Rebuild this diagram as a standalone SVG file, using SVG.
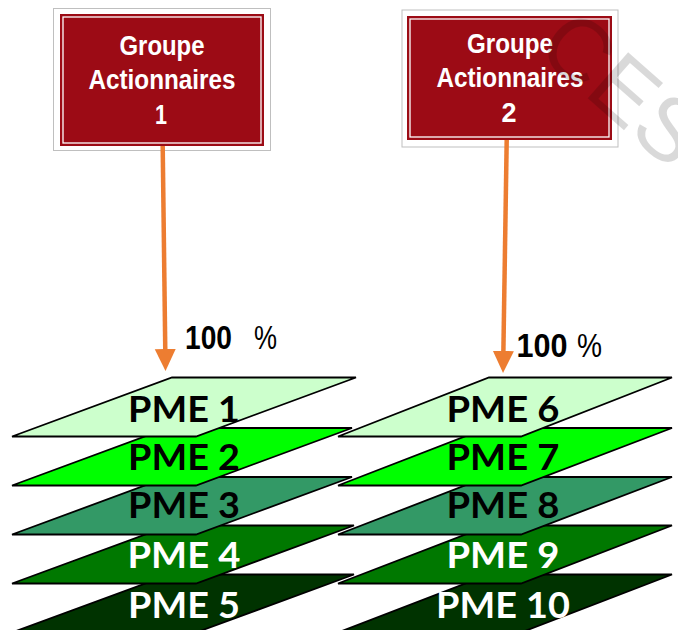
<svg xmlns="http://www.w3.org/2000/svg" width="678" height="630" viewBox="0 0 678 630">
  <defs>
    <style>
      .frame { fill: #ffffff; stroke: #bfbfbf; stroke-width: 1; }
      .red { fill: #9c0b15; }
      .inner { fill: none; stroke: #ffffff; stroke-width: 1.3; }
      .btxt { font-family: "Liberation Sans", Arial, sans-serif; font-weight: bold; font-size: 28.5px; fill: #ffffff; text-anchor: middle; }
      .layer { stroke: #000000; stroke-width: 1.8; }
      .ptxt { font-family: Lato, "Open Sans", sans-serif; font-weight: bold; font-size: 37px; text-anchor: middle; }
      .dark { fill: #000000; }
      .light { fill: #ffffff; }
      .conn { stroke: #ed7d31; stroke-width: 4.5; fill: none; }
      .pct { font-family: "Liberation Sans", Arial, sans-serif; font-size: 34px; fill: #000000; }
      .wm { font-family: "Liberation Sans", Arial, sans-serif; font-size: 89px; fill: #000000; fill-opacity: 0.15; }
    </style>
    <marker id="arrow" markerUnits="userSpaceOnUse" markerWidth="23" markerHeight="22" refX="12" refY="10.5" orient="auto">
      <path d="M0,0 L22,10.5 L0,21 Z" fill="#ed7d31"/>
    </marker>
  </defs>

  <!-- left stack (bottom layer first) -->
  <g id="pme5">
    <polygon class="layer" fill="#003300" points="170,574.5 354,574.5 196,632.5 12,632.5"/>
    <text class="ptxt light" x="184" y="618.3" textLength="112" lengthAdjust="spacingAndGlyphs">PME 5</text>
  </g>
  <g id="pme4">
    <polygon class="layer" fill="#007800" points="170,525.5 354,525.5 196,583.5 12,583.5"/>
    <text class="ptxt light" x="184" y="568.3" textLength="113" lengthAdjust="spacingAndGlyphs">PME 4</text>
  </g>
  <g id="pme3">
    <polygon class="layer" fill="#339966" points="168,477 352,477 196,534.5 12,534.5"/>
    <text class="ptxt dark" x="184" y="518.3" textLength="112" lengthAdjust="spacingAndGlyphs">PME 3</text>
  </g>
  <g id="pme2">
    <polygon class="layer" fill="#00ff00" points="168,428 352,428 196,485.5 12,485.5"/>
    <text class="ptxt dark" x="184" y="470" textLength="112" lengthAdjust="spacingAndGlyphs">PME 2</text>
  </g>
  <g id="pme1">
    <polygon class="layer" fill="#ccffcc" points="172,377.5 356,377.5 196,436.5 12,436.5"/>
    <text class="ptxt dark" x="184" y="421.7" textLength="112" lengthAdjust="spacingAndGlyphs">PME 1</text>
  </g>

  <!-- right stack (bottom layer first) -->
  <g id="pme10">
    <polygon class="layer" fill="#003300" points="489,574.5 672,574.5 521,632.5 338,632.5"/>
    <text class="ptxt light" x="503" y="618.3" textLength="134" lengthAdjust="spacingAndGlyphs">PME 10</text>
  </g>
  <g id="pme9">
    <polygon class="layer" fill="#007800" points="489,525.5 672,525.5 521,583.5 338,583.5"/>
    <text class="ptxt light" x="503" y="568.3" textLength="113" lengthAdjust="spacingAndGlyphs">PME 9</text>
  </g>
  <g id="pme8">
    <polygon class="layer" fill="#339966" points="487,477 672,477 521,534.5 338,534.5"/>
    <text class="ptxt dark" x="503" y="518.3" textLength="113" lengthAdjust="spacingAndGlyphs">PME 8</text>
  </g>
  <g id="pme7">
    <polygon class="layer" fill="#00ff00" points="487,428 672,428 521,485.5 338,485.5"/>
    <text class="ptxt dark" x="503" y="470" textLength="113" lengthAdjust="spacingAndGlyphs">PME 7</text>
  </g>
  <g id="pme6">
    <polygon class="layer" fill="#ccffcc" points="489,377.5 672,377.5 521,436.5 338,436.5"/>
    <text class="ptxt dark" x="503" y="421.7" textLength="113" lengthAdjust="spacingAndGlyphs">PME 6</text>
  </g>

  <!-- shareholder groups -->
  <g id="groupe1">
    <rect class="frame" x="53.5" y="8.5" width="217" height="142"/>
    <rect class="red" x="60" y="14" width="204" height="132"/>
    <rect class="inner" x="63" y="17" width="198" height="126"/>
    <text class="btxt" x="162" y="55" textLength="85" lengthAdjust="spacingAndGlyphs">Groupe</text>
    <text class="btxt" x="162" y="89" textLength="147" lengthAdjust="spacingAndGlyphs">Actionnaires</text>
    <text class="btxt" x="161" y="124" textLength="12" lengthAdjust="spacingAndGlyphs">1</text>
  </g>
  <g id="groupe2">
    <rect class="frame" x="402" y="10" width="216" height="137"/>
    <rect class="red" x="407" y="16" width="205" height="124"/>
    <rect class="inner" x="410" y="19" width="199" height="118"/>
    <text class="btxt" x="510" y="53" textLength="86" lengthAdjust="spacingAndGlyphs">Groupe</text>
    <text class="btxt" x="510" y="87" textLength="147" lengthAdjust="spacingAndGlyphs">Actionnaires</text>
    <text class="btxt" x="509" y="122" textLength="15" lengthAdjust="spacingAndGlyphs">2</text>
  </g>

  <!-- connectors -->
  <g id="connectors">
    <line class="conn" x1="162.7" y1="146" x2="165.4" y2="361" marker-end="url(#arrow)"/>
    <line class="conn" x1="506.7" y1="140" x2="503.2" y2="363" marker-end="url(#arrow)"/>
    <text class="pct" x="185" y="349"><tspan font-weight="bold" textLength="47" lengthAdjust="spacingAndGlyphs">100</tspan><tspan x="254" textLength="23" lengthAdjust="spacingAndGlyphs">%</tspan></text>
    <text class="pct" x="516.5" y="357.3" font-size="36"><tspan font-weight="bold" textLength="51" lengthAdjust="spacingAndGlyphs">100</tspan><tspan x="577" textLength="25" lengthAdjust="spacingAndGlyphs">%</tspan></text>
  </g>

  <!-- watermark -->
  <text class="wm" transform="translate(534,51) rotate(41.3)">CES</text>
</svg>
